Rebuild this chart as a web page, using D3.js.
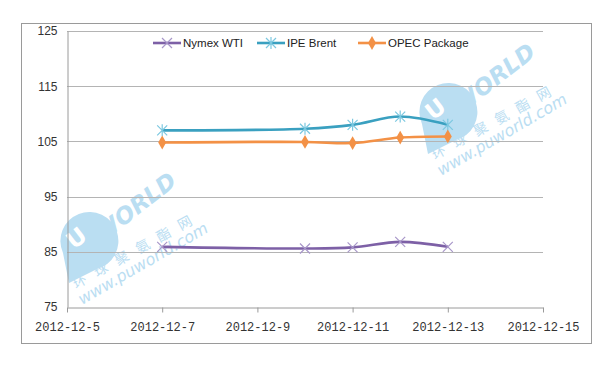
<!DOCTYPE html>
<html>
<head>
<meta charset="utf-8">
<script src="https://cdn.jsdelivr.net/npm/d3@7"></script>
<style>
  body { margin: 0; background: #fff; }
  svg { display: block; }
</style>
</head>
<body>
<div id="chart"></div>
<script>
// data
var dates = ["2012-12-07", "2012-12-10", "2012-12-11", "2012-12-12", "2012-12-13"];
var wti = [85.9, 85.6, 85.8, 86.8, 85.9];
var brent = [107.0, 107.3, 108.0, 109.5, 108.0];
var opec = [104.8, 104.9, 104.7, 105.7, 105.9];
var seriesNames = ["Nymex WTI", "IPE Brent", "OPEC Package"];
var yTicks = [75, 85, 95, 105, 115, 125];
var xTickDates = ["2012-12-05", "2012-12-07", "2012-12-09", "2012-12-11", "2012-12-13", "2012-12-15"];

var width = 611, height = 367;
var parse = d3.timeParse("%Y-%m-%d");

var svg = d3.select("#chart").append("svg")
  .attr("width", width)
  .attr("height", height);

// outer frame
svg.append("rect")
  .attr("x", 21.5).attr("y", 23.5)
  .attr("width", 570).attr("height", 320)
  .attr("fill", "none")
  .attr("stroke", "#9a9a9a");

var x = d3.scaleTime()
  .domain([parse("2012-12-05"), parse("2012-12-15")])
  .range([67, 543]);
var y = d3.scaleLinear()
  .domain([75, 125])
  .range([307, 31]);

// watermark logo, drawn relative to the circle centre
function watermark(cx, cy) {
  var g = svg.append("g")
    .attr("transform", "translate(" + cx + "," + cy + ")")
    .attr("fill", "#a9d6f0").attr("opacity", 0.8);
  // teardrop badge
  g.append("path")
    .attr("d", "M-22,42 L-28,12 A29,29 0 1 1 6,28 Z");
  g.append("text").attr("transform", "translate(-17,9) rotate(-38)")
    .attr("fill", "#fff").style("font", "bold 23px 'DejaVu Sans'").text("U");
  g.append("text").attr("transform", "translate(11,2) rotate(-38)")
    .style("font", "bold italic 23px 'DejaVu Sans'").text("WORLD");
  g.append("text").attr("transform", "translate(-15,48) rotate(-29)")
    .style("font", "14px 'Noto Sans CJK SC'").attr("letter-spacing", 10).text("环球聚氨酯网");
  g.append("text").attr("transform", "translate(-9,64) rotate(-30)")
    .style("font", "italic 16px 'DejaVu Sans'").text("www.puworld.com");
}
watermark(450, 112);
watermark(91, 241);

// gridlines
svg.append("g").selectAll("line")
  .data(yTicks.slice(1))
  .enter().append("line")
  .attr("x1", 67).attr("x2", 543)
  .attr("y1", function(d) { return Math.round(y(d)) + 0.5; })
  .attr("y2", function(d) { return Math.round(y(d)) + 0.5; })
  .attr("stroke", "#b4b4b4");

// y axis
var yAxis = svg.append("g")
  .attr("transform", "translate(67.5,0)")
  .call(d3.axisLeft(y).tickValues(yTicks).tickSize(0).tickPadding(10));
yAxis.select(".domain").attr("stroke", "#9a9a9a");
yAxis.selectAll("text")
  .style("font", "12px 'Liberation Sans'").attr("fill", "#333");

// x axis
var xAxis = svg.append("g")
  .attr("transform", "translate(0," + (Math.round(y(75)) + 0.5) + ")")
  .call(d3.axisBottom(x)
    .tickValues(xTickDates.map(parse))
    .tickFormat(d3.timeFormat("%Y-%m-%-d"))
    .tickSize(5).tickSizeOuter(0).tickPadding(10));
xAxis.select(".domain").attr("stroke", "#9a9a9a");
xAxis.selectAll(".tick line").attr("stroke", "#9a9a9a");
xAxis.selectAll("text")
  .style("font", "12px 'Liberation Mono'").attr("fill", "#333");

// series
var series = [
  { name: seriesNames[0], values: wti, color: "#7d60a6", mcolor: "#a897c9", marker: "x" },
  { name: seriesNames[1], values: brent, color: "#3aa0c0", mcolor: "#7cc8e0", marker: "star" },
  { name: seriesNames[2], values: opec, color: "#f39146", mcolor: "#f39146", marker: "diamond" }
];

var line = d3.line()
  .x(function(d) { return x(d.date); })
  .y(function(d) { return y(d.value); })
  .curve(d3.curveCatmullRom.alpha(0.5));

function drawMarker(g, type, px, py, color) {
  if (type === "x") {
    g.append("path")
      .attr("d", "M" + (px - 5) + "," + (py - 5) + "L" + (px + 5) + "," + (py + 5) +
        "M" + (px - 5) + "," + (py + 5) + "L" + (px + 5) + "," + (py - 5))
      .attr("stroke", color).attr("stroke-width", 1.2).attr("fill", "none");
  } else if (type === "star") {
    g.append("path")
      .attr("d", "M" + (px - 5) + "," + (py - 5) + "L" + (px + 5) + "," + (py + 5) +
        "M" + (px - 5) + "," + (py + 5) + "L" + (px + 5) + "," + (py - 5) +
        "M" + px + "," + (py - 6) + "L" + px + "," + (py + 6))
      .attr("stroke", color).attr("stroke-width", 1.2).attr("fill", "none");
  } else {
    g.append("path")
      .attr("d", d3.symbol().type(d3.symbolDiamond).size(55)())
      .attr("transform", "translate(" + px + "," + py + ")")
      .attr("fill", color);
  }
}

series.forEach(function(s) {
  var pts = dates.map(function(d, i) { return { date: parse(d), value: s.values[i] }; });
  var g = svg.append("g");
  g.append("path")
    .attr("d", line(pts))
    .attr("fill", "none")
    .attr("stroke", s.color)
    .attr("stroke-width", 2.6);
  pts.forEach(function(p) {
    drawMarker(g, s.marker, x(p.date), y(p.value), s.mcolor);
  });
});

// legend
var legendX = [153, 257, 358];
var legendY = 43;
series.forEach(function(s, i) {
  var g = svg.append("g");
  g.append("line")
    .attr("x1", legendX[i]).attr("x2", legendX[i] + 28)
    .attr("y1", legendY).attr("y2", legendY)
    .attr("stroke", s.color).attr("stroke-width", 2.6);
  drawMarker(g, s.marker, legendX[i] + 14, legendY, s.mcolor);
  g.append("text")
    .attr("x", legendX[i] + 30).attr("y", legendY + 4)
    .style("font", "11.5px 'Liberation Sans'").attr("fill", "#222")
    .text(s.name);
});
</script>
</body>
</html>
